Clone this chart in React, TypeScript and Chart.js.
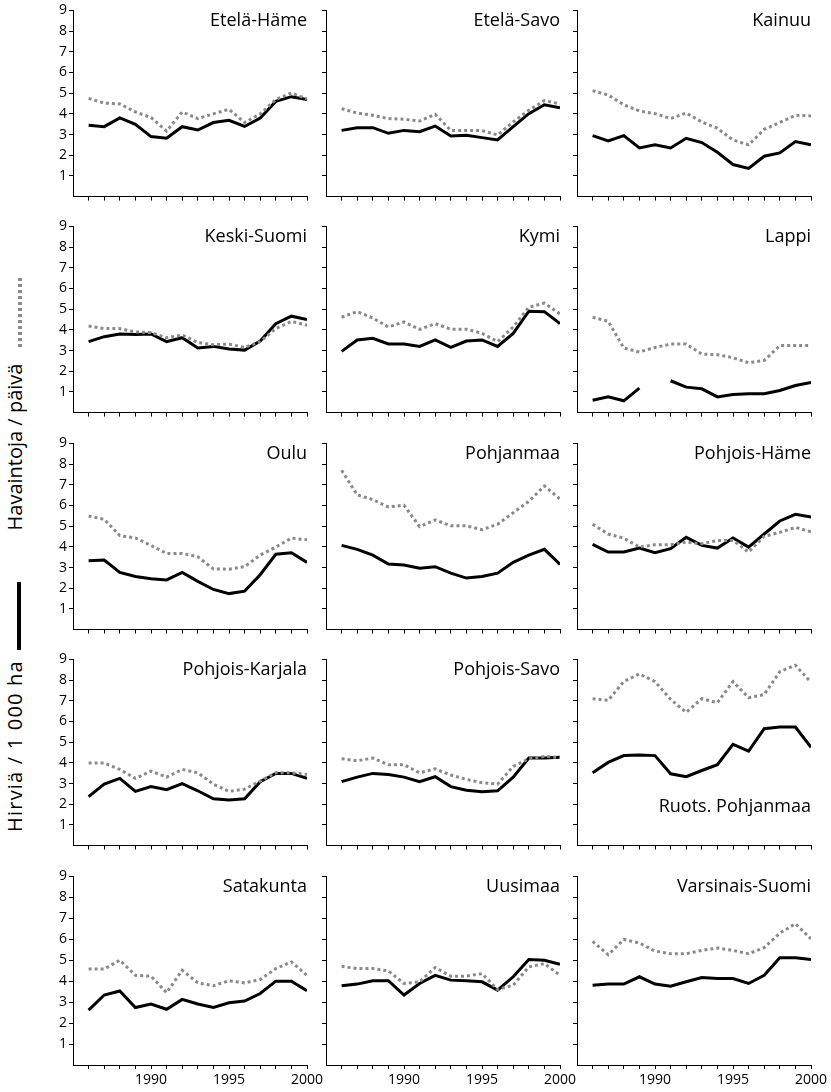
import React, { useEffect, useRef } from "react";
import { Chart, registerables } from "chart.js";
Chart.register(...registerables);

const FONT = "'Open Sans', sans-serif";

const years = [1986, 1987, 1988, 1989, 1990, 1991, 1992, 1993, 1994, 1995, 1996, 1997, 1998, 1999, 2000];
const xTickLabels = [1990, 1995, 2000];
const yTicks = [1, 2, 3, 4, 5, 6, 7, 8, 9];

// Hirviä / 1 000 ha (solid black) and Havaintoja / päivä (dotted grey)
const hirvEtelaHame = [3.45, 3.38, 3.8, 3.49, 2.9, 2.82, 3.38, 3.22, 3.58, 3.69, 3.39, 3.8, 4.6, 4.83, 4.69];
const havEtelaHame = [4.75, 4.52, 4.48, 4.09, 3.82, 3.17, 4.09, 3.77, 4.0, 4.22, 3.58, 4.0, 4.69, 5.01, 4.72];
const hirvEtelaSavo = [3.2, 3.33, 3.33, 3.06, 3.2, 3.14, 3.41, 2.93, 2.96, 2.85, 2.74, 3.38, 4.01, 4.44, 4.29];
const havEtelaSavo = [4.25, 4.04, 3.93, 3.77, 3.74, 3.65, 3.98, 3.2, 3.2, 3.19, 2.98, 3.61, 4.17, 4.64, 4.48];
const hirvKainuu = [2.95, 2.69, 2.95, 2.35, 2.5, 2.35, 2.82, 2.61, 2.14, 1.55, 1.36, 1.95, 2.11, 2.66, 2.5];
const havKainuu = [5.12, 4.91, 4.44, 4.14, 4.01, 3.77, 4.04, 3.61, 3.3, 2.74, 2.5, 3.25, 3.58, 3.93, 3.9];
const hirvKeskiSuomi = [3.43, 3.67, 3.8, 3.78, 3.8, 3.43, 3.62, 3.12, 3.2, 3.07, 3.02, 3.46, 4.3, 4.66, 4.5];
const havKeskiSuomi = [4.19, 4.06, 4.06, 3.9, 3.87, 3.62, 3.75, 3.39, 3.28, 3.31, 3.15, 3.43, 4.06, 4.41, 4.22];
const hirvKymi = [2.96, 3.51, 3.59, 3.32, 3.31, 3.2, 3.51, 3.15, 3.46, 3.51, 3.2, 3.83, 4.9, 4.88, 4.3];
const havKymi = [4.61, 4.88, 4.57, 4.14, 4.38, 4.02, 4.3, 4.03, 4.03, 3.83, 3.43, 4.14, 5.09, 5.29, 4.77];
const hirvLappi = [0.6, 0.76, 0.57, 1.18, null, 1.54, 1.23, 1.15, 0.76, 0.88, 0.91, 0.91, 1.07, 1.31, 1.46];
const havLappi = [4.61, 4.41, 3.12, 2.93, 3.15, 3.31, 3.31, 2.83, 2.8, 2.65, 2.41, 2.52, 3.24, 3.24, 3.24];
const hirvOulu = [3.33, 3.36, 2.76, 2.57, 2.46, 2.4, 2.76, 2.33, 1.94, 1.74, 1.86, 2.65, 3.64, 3.71, 3.25];
const havOulu = [5.49, 5.33, 4.54, 4.43, 4.07, 3.68, 3.68, 3.52, 2.93, 2.92, 3.04, 3.6, 3.99, 4.42, 4.34];
const hirvPohjanmaa = [4.07, 3.88, 3.6, 3.17, 3.12, 2.97, 3.04, 2.73, 2.49, 2.57, 2.73, 3.25, 3.6, 3.88, 3.15];
const havPohjanmaa = [7.7, 6.51, 6.28, 5.93, 6.01, 4.98, 5.3, 5.02, 5.02, 4.83, 5.09, 5.65, 6.2, 6.94, 6.31];
const hirvPohjoisHame = [4.12, 3.75, 3.75, 3.94, 3.72, 3.91, 4.46, 4.07, 3.94, 4.43, 3.99, 4.62, 5.25, 5.57, 5.44];
const havPohjoisHame = [5.09, 4.62, 4.42, 3.99, 4.1, 4.1, 4.23, 4.15, 4.31, 4.31, 3.75, 4.51, 4.7, 4.94, 4.73];
const hirvPohjoisKarjala = [2.37, 2.97, 3.25, 2.62, 2.85, 2.7, 3.0, 2.65, 2.26, 2.21, 2.26, 3.09, 3.49, 3.49, 3.25];
const havPohjoisKarjala = [3.99, 3.99, 3.68, 3.25, 3.6, 3.31, 3.68, 3.52, 2.97, 2.62, 2.73, 3.12, 3.52, 3.52, 3.44];
const hirvPohjoisSavo = [3.09, 3.31, 3.49, 3.44, 3.31, 3.09, 3.33, 2.85, 2.68, 2.6, 2.65, 3.31, 4.23, 4.23, 4.27];
const havPohjoisSavo = [4.2, 4.1, 4.23, 3.91, 3.91, 3.52, 3.71, 3.41, 3.2, 3.04, 2.97, 3.83, 4.2, 4.31, 4.26];
const hirvRuotsPohjanmaa = [3.52, 4.02, 4.35, 4.38, 4.35, 3.47, 3.33, 3.63, 3.91, 4.89, 4.57, 5.65, 5.73, 5.73, 4.75];
const havRuotsPohjanmaa = [7.1, 7.02, 7.93, 8.3, 7.93, 7.07, 6.44, 7.1, 6.91, 7.93, 7.15, 7.3, 8.41, 8.72, 7.89];
const hirvSatakunta = [2.62, 3.34, 3.53, 2.74, 2.91, 2.66, 3.13, 2.91, 2.75, 2.97, 3.05, 3.41, 4.0, 4.0, 3.54];
const havSatakunta = [4.58, 4.58, 5.0, 4.28, 4.24, 3.45, 4.52, 3.92, 3.78, 4.02, 3.92, 4.08, 4.6, 4.92, 4.28];
const hirvUusimaa = [3.78, 3.86, 4.02, 4.02, 3.34, 3.89, 4.28, 4.05, 4.02, 3.97, 3.57, 4.21, 5.03, 5.0, 4.81];
const havUusimaa = [4.71, 4.6, 4.6, 4.49, 3.89, 3.97, 4.65, 4.24, 4.24, 4.36, 3.6, 3.81, 4.68, 4.84, 4.28];
const hirvVarsinaisSuomi = [3.81, 3.86, 3.86, 4.21, 3.86, 3.76, 3.97, 4.17, 4.13, 4.13, 3.89, 4.28, 5.12, 5.12, 5.04];
const havVarsinaisSuomi = [5.9, 5.26, 5.99, 5.82, 5.44, 5.31, 5.31, 5.47, 5.58, 5.47, 5.31, 5.6, 6.29, 6.74, 6.02];

const panels = [
  { title: "Etelä-Häme", hirv: hirvEtelaHame, hav: havEtelaHame },
  { title: "Etelä-Savo", hirv: hirvEtelaSavo, hav: havEtelaSavo },
  { title: "Kainuu", hirv: hirvKainuu, hav: havKainuu },
  { title: "Keski-Suomi", hirv: hirvKeskiSuomi, hav: havKeskiSuomi },
  { title: "Kymi", hirv: hirvKymi, hav: havKymi },
  { title: "Lappi", hirv: hirvLappi, hav: havLappi },
  { title: "Oulu", hirv: hirvOulu, hav: havOulu },
  { title: "Pohjanmaa", hirv: hirvPohjanmaa, hav: havPohjanmaa },
  { title: "Pohjois-Häme", hirv: hirvPohjoisHame, hav: havPohjoisHame },
  { title: "Pohjois-Karjala", hirv: hirvPohjoisKarjala, hav: havPohjoisKarjala },
  { title: "Pohjois-Savo", hirv: hirvPohjoisSavo, hav: havPohjoisSavo },
  { title: "Ruots. Pohjanmaa", hirv: hirvRuotsPohjanmaa, hav: havRuotsPohjanmaa, titleBottom: true },
  { title: "Satakunta", hirv: hirvSatakunta, hav: havSatakunta },
  { title: "Uusimaa", hirv: hirvUusimaa, hav: havUusimaa },
  { title: "Varsinais-Suomi", hirv: hirvVarsinaisSuomi, hav: havVarsinaisSuomi },
];

// layout
const COL_X = [73, 326, 577];
const ROW_TOP = [10, 226, 443, 659, 876];
const PLOT_W = 234;
const PLOT_H = 189;
const PT = 10;
const PR = 20;

const titlePlugin = {
  id: "panelTitle",
  afterDraw(chart: any, _args: any, opts: any) {
    const { ctx, chartArea } = chart;
    ctx.save();
    ctx.font = `18px ${FONT}`;
    ctx.fillStyle = "#000";
    ctx.textAlign = "right";
    ctx.textBaseline = "alphabetic";
    const y = opts.bottom ? chartArea.bottom - 34 : chartArea.top + 16;
    ctx.fillText(opts.text, chartArea.right, y);
    ctx.restore();
  },
};

function Panel({ p, row, col }: { p: any; row: number; col: number }) {
  const ref = useRef<HTMLCanvasElement>(null);
  const showY = col === 0;
  const showX = row === 4;
  const YW = showY ? 40 : 10;
  const XH = showX ? 26 : 8;
  const left = COL_X[col] - YW;
  const top = ROW_TOP[row] - PT;
  const w = YW + PLOT_W + PR;
  const h = PT + PLOT_H + XH;

  useEffect(() => {
    const tickFont = { family: FONT, size: 14 };
    const chart = new Chart(ref.current as HTMLCanvasElement, {
      type: "line",
      data: {
        datasets: [
          {
            label: "Havaintoja / päivä",
            data: years.map((x, i) => ({ x, y: p.hav[i] })),
            borderColor: "#8a8a8a",
            borderWidth: 3,
            borderDash: [3, 3],
            pointRadius: 0,
            fill: false,
            tension: 0,
          },
          {
            label: "Hirviä / 1 000 ha",
            data: years.map((x, i) => ({ x, y: p.hirv[i] })),
            borderColor: "#000",
            borderWidth: 3,
            pointRadius: 0,
            fill: false,
            tension: 0,
            spanGaps: false,
          },
        ],
      },
      options: {
        animation: false,
        responsive: false,
        maintainAspectRatio: false,
        devicePixelRatio: 1,
        layout: { padding: { top: PT, right: PR, left: 0, bottom: 0 } },
        plugins: {
          legend: { display: false },
          tooltip: { enabled: false },
          panelTitle: { text: p.title, bottom: !!p.titleBottom },
        } as any,
        scales: {
          x: {
            type: "linear",
            min: 1985,
            max: 2000,
            afterBuildTicks: (s: any) => {
              s.ticks = years.map((v) => ({ value: v }));
            },
            afterFit: (s: any) => {
              s.height = XH;
            },
            ticks: {
              autoSkip: false,
              maxRotation: 0,
              padding: 3,
              font: tickFont,
              color: "#000",
              callback: (v: any) => (showX && xTickLabels.includes(Number(v)) ? String(v) : ""),
            },
            grid: { drawOnChartArea: false, drawTicks: true, tickLength: 4, color: "#000", lineWidth: 1 },
            border: { display: true, color: "#000", width: 1 },
          },
          y: {
            type: "linear",
            min: 0,
            max: 9,
            afterBuildTicks: (s: any) => {
              s.ticks = yTicks.map((v) => ({ value: v }));
            },
            afterFit: (s: any) => {
              s.width = YW;
            },
            ticks: {
              padding: 2,
              font: tickFont,
              color: "#000",
              callback: (v: any) => (showY ? String(v) : ""),
            },
            grid: { drawOnChartArea: false, drawTicks: true, tickLength: 4, color: "#000", lineWidth: 1 },
            border: { display: true, color: "#000", width: 1 },
          },
        },
      } as any,
      plugins: [titlePlugin as any],
    });
    return () => chart.destroy();
  }, []);

  return (
    <canvas
      ref={ref}
      width={w}
      height={h}
      style={{ position: "absolute", left, top, width: w, height: h }}
    />
  );
}

const rotatedLabel = (centerY: number, spacing: number): React.CSSProperties => ({
  position: "absolute",
  left: 15 - 150,
  top: centerY - 12,
  width: 300,
  height: 24,
  lineHeight: "24px",
  fontSize: 20,
  letterSpacing: spacing,
  textAlign: "center",
  whiteSpace: "nowrap",
  transform: "rotate(-90deg)",
  color: "#000",
});

export default function App() {
  return (
    <div
      style={{
        position: "absolute",
        left: 0,
        top: 0,
        width: 831,
        height: 1092,
        background: "#fff",
        overflow: "hidden",
        fontFamily: FONT,
      }}
    >
      {panels.map((p, i) => (
        <Panel key={p.title} p={p} row={Math.floor(i / 3)} col={i % 3} />
      ))}
      <div
        style={{
          position: "absolute",
          left: 18,
          top: 278,
          width: 4,
          height: 69,
          background:
            "repeating-linear-gradient(to bottom, #8a8a8a 0px, #8a8a8a 3px, transparent 3px, transparent 6px)",
        }}
      />
      <div style={rotatedLabel(447, 0)}>Havaintoja / päivä</div>
      <div style={{ position: "absolute", left: 17, top: 582, width: 4, height: 68, background: "#000" }} />
      <div style={rotatedLabel(746, 1.2)}>Hirviä / 1 000 ha</div>
    </div>
  );
}
